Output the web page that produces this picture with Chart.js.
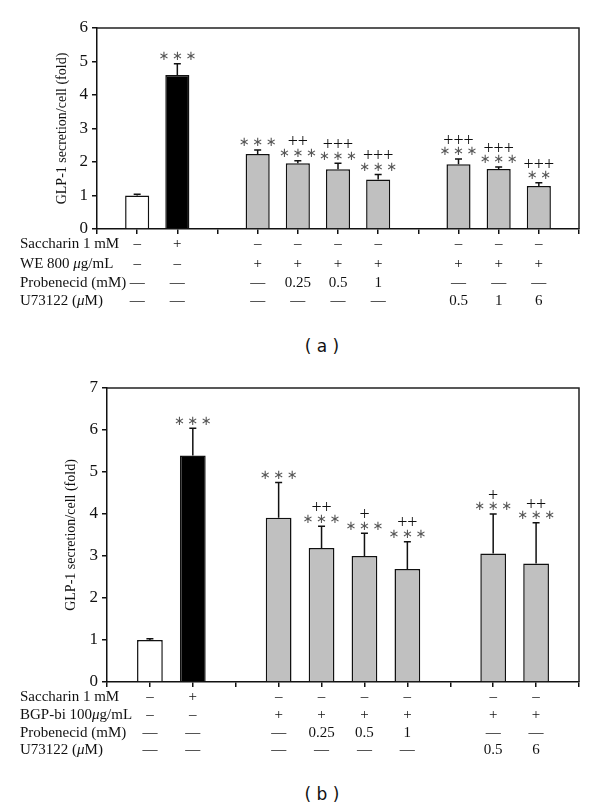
<!DOCTYPE html>
<html>
<head>
<meta charset="utf-8">
<script src="https://cdn.jsdelivr.net/npm/chart.js@4"></script>
<style>
    body { margin: 0; background: #fff; }
    .box { position: absolute; left: 0; width: 600px; }
    .cap { position: absolute; left: 0; width: 644px; text-align: center; font: 17px "DejaVu Sans", sans-serif; color: #111; }
</style>
</head>
<body>
<div class="box" style="top:0;height:320px"><canvas id="chart-a"></canvas></div>
<div class="cap" style="top:336px">( a )</div>
<div class="box" style="top:370px;height:400px"><canvas id="chart-b"></canvas></div>
<div class="cap" style="top:784px">( b )</div>
<script>
// panel (a)
const labels_a = ["", "Control", "Saccharin", "", "WE", "WE+P0.25", "WE+P0.5", "WE+P1", "", "WE+U0.5", "WE+U1", "WE+U6", ""];
const values_a = [null, 1.0, 4.6, null, 2.24, 1.96, 1.78, 1.48, null, 1.93, 1.79, 1.28, null];
const errors_a = [null, 0.04, 0.33, null, 0.12, 0.08, 0.18, 0.15, null, 0.16, 0.06, 0.10, null];
const stars_a = ["", "", "***", "", "***", "***", "***", "***", "", "***", "***", "**", ""];
const plus_a = ["", "", "", "", "", "++", "+++", "+++", "", "+++", "+++", "+++", ""];
const rows_a = ["Saccharin 1 mM", "WE 800 μg/mL", "Probenecid (mM)", "U73122 (μM)"];
const saccharin_a = ["", "–", "+", "", "–", "–", "–", "–", "", "–", "–", "–", ""];
const we_a = ["", "–", "–", "", "+", "+", "+", "+", "", "+", "+", "+", ""];
const probenecid_a = ["", "—", "—", "", "—", "0.25", "0.5", "1", "", "—", "—", "—", ""];
const u73122_a = ["", "—", "—", "", "—", "—", "—", "—", "", "0.5", "1", "6", ""];
const yticks_a = [0, 6];

// panel (b)
const labels_b = ["", "Control", "Saccharin", "", "BGP-bi", "BGP+P0.25", "BGP+P0.5", "BGP+P1", "", "BGP+U0.5", "BGP+U6", ""];
const values_b = [null, 1.0, 5.39, null, 3.91, 3.19, 3.0, 2.69, null, 3.06, 2.82, null];
const errors_b = [null, 0.03, 0.65, null, 0.84, 0.52, 0.54, 0.65, null, 0.94, 0.97, null];
const stars_b = ["", "", "***", "", "***", "***", "***", "***", "", "***", "***", ""];
const plus_b = ["", "", "", "", "", "++", "+", "++", "", "+", "++", ""];
const rows_b = ["Saccharin 1 mM", "BGP-bi 100μg/mL", "Probenecid (mM)", "U73122 (μM)"];
const saccharin_b = ["", "–", "+", "", "–", "–", "–", "–", "", "–", "–", ""];
const bgp_b = ["", "–", "–", "", "+", "+", "+", "+", "", "+", "+", ""];
const probenecid_b = ["", "—", "—", "", "—", "0.25", "0.5", "1", "", "—", "—", ""];
const u73122_b = ["", "—", "—", "", "—", "—", "—", "—", "", "0.5", "6", ""];
const yticks_b = [0, 7];

const SERIF = "'Liberation Serif', 'DejaVu Serif', serif";

const bar_colors = (labels) => labels.map((l) => {
    if (l === "Control") return "#ffffff";
    if (l === "Saccharin") return "#000000";
    return "#c0c0c0";
});

// draws the μ in italic, rest upright
const draw_label = (ctx, text, x, y) => {
    const parts = text.split("μ");
    let cx = x;
    parts.forEach((p, i) => {
        if (i > 0) {
            ctx.font = "italic 15px " + SERIF;
            ctx.fillText("μ", cx, y);
            cx += ctx.measureText("μ").width;
        }
        ctx.font = "15px " + SERIF;
        ctx.fillText(p, cx, y);
        cx += ctx.measureText(p).width;
    });
};

const extras = {
    id: "extras",
    afterDatasetsDraw(chart, args, opts) {
        const ctx = chart.ctx;
        const area = chart.chartArea;
        const xs = chart.scales.x;
        const ys = chart.scales.y;
        ctx.save();

        // box top + right
        ctx.strokeStyle = "#222";
        ctx.lineWidth = 1.5;
        ctx.beginPath();
        ctx.moveTo(area.left, area.top);
        ctx.lineTo(area.right, area.top);
        ctx.lineTo(area.right, area.bottom);
        ctx.stroke();

        // error bars + significance marks
        opts.values.forEach((v, i) => {
            if (v === null) return;
            const x = xs.getPixelForValue(i);
            const y0 = ys.getPixelForValue(v);
            const y1 = ys.getPixelForValue(v + opts.errors[i]);
            ctx.strokeStyle = "#111";
            ctx.lineWidth = 1.5;
            ctx.beginPath();
            ctx.moveTo(x, y0);
            ctx.lineTo(x, y1);
            ctx.moveTo(x - 3.5, y1);
            ctx.lineTo(x + 3.5, y1);
            ctx.stroke();

            ctx.textAlign = "center";
            ctx.textBaseline = "middle";
            if (opts.stars[i]) {
                ctx.fillStyle = "#555";
                ctx.font = "13px 'DejaVu Sans', sans-serif";
                ctx.fillText(opts.stars[i].split("").map(() => "∗").join("\u2009"), x, y1 - 7);
            }
            if (opts.plus[i]) {
                ctx.fillStyle = "#111";
                ctx.font = "18px " + SERIF;
                ctx.fillText(opts.plus[i], x, y1 - 18);
            }
        });

        // condition table under the axis
        ctx.fillStyle = "#111";
        ctx.textBaseline = "middle";
        opts.rows.forEach((row, r) => {
            const y = area.bottom + opts.rowY[r];
            ctx.textAlign = "left";
            draw_label(ctx, row, 20, y);
            ctx.textAlign = "center";
            ctx.font = "15px " + SERIF;
            opts.cells[r].forEach((c, i) => {
                if (c) ctx.fillText(c, xs.getPixelForValue(i), y);
            });
        });
        ctx.restore();
    },
};

const make_chart = (id, labels, values, yticks, opts) => {
    return new Chart(document.getElementById(id), {
        type: "bar",
        data: {
            labels: labels,
            datasets: [
                {
                    data: values,
                    backgroundColor: bar_colors(labels),
                    borderColor: "#111",
                    borderWidth: 1.5,
                    categoryPercentage: 1,
                    barPercentage: 0.6,
                },
            ],
        },
        plugins: [extras],
        options: {
            responsive: true,
            maintainAspectRatio: false,
            animation: false,
            layout: { padding: { top: opts.top, right: 21, left: 0, bottom: 0 } },
            plugins: {
                legend: { display: false },
                tooltip: { enabled: false },
                extras: opts,
            },
            scales: {
                x: {
                    offset: false,
                    grid: { offset: false, drawOnChartArea: false, tickLength: 5, color: "#111", lineWidth: 1.5 },
                    border: { color: "#111", width: 1.5 },
                    ticks: { display: false, autoSkip: false },
                    afterFit: (s) => { s.height = opts.xHeight; },
                },
                y: {
                    min: yticks[0],
                    max: yticks[1],
                    grid: { drawOnChartArea: false, tickLength: 5, color: "#111", lineWidth: 1.5 },
                    border: { color: "#111", width: 1.5 },
                    ticks: { stepSize: 1, color: "#111", padding: 4, font: { family: SERIF, size: 17 } },
                    title: {
                        display: true,
                        text: "GLP-1 secretion/cell (fold)",
                        color: "#111",
                        font: { family: SERIF, size: 14 },
                        padding: { top: opts.titlePad, bottom: 0 },
                    },
                    afterFit: (s) => { s.width = opts.yWidth; },
                },
            },
        },
    });
};

make_chart("chart-a", labels_a, values_a, yticks_a, {
    top: 28, xHeight: 91, yWidth: 97, titlePad: 54,
    values: values_a, errors: errors_a, stars: stars_a, plus: plus_a,
    rows: rows_a, rowY: [15, 35, 54, 72],
    cells: [saccharin_a, we_a, probenecid_a, u73122_a],
});

make_chart("chart-b", labels_b, values_b, yticks_b, {
    top: 18, xHeight: 88, yWidth: 107, titlePad: 63,
    values: values_b, errors: errors_b, stars: stars_b, plus: plus_b,
    rows: rows_b, rowY: [15, 33, 51, 68],
    cells: [saccharin_b, bgp_b, probenecid_b, u73122_b],
});
</script>
</body>
</html>
